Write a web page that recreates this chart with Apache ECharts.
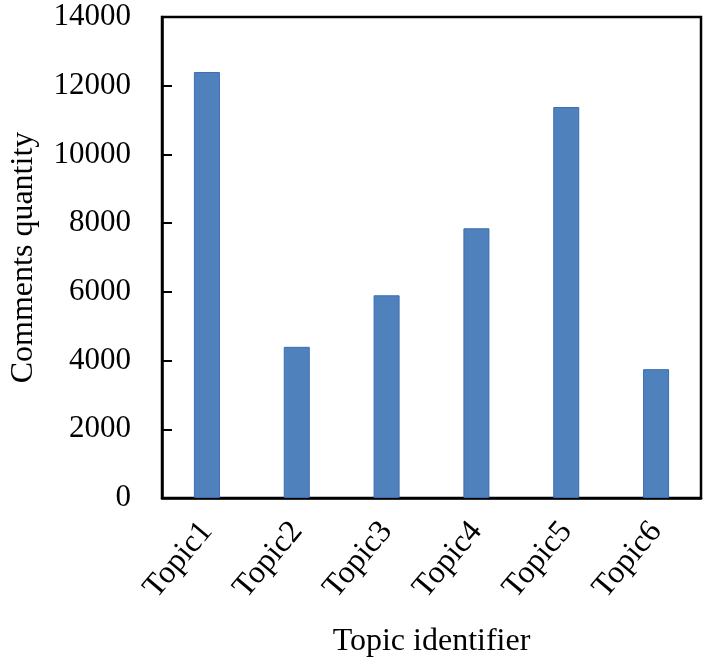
<!DOCTYPE html>
<html>
<head>
<meta charset="utf-8">
<script src="https://cdn.jsdelivr.net/npm/echarts@6/dist/echarts.min.js"></script>
<style>
  html, body { margin: 0; padding: 0; background: #fff; }
  #main { width: 708px; height: 669px; }
</style>
</head>
<body>
<div id="main"></div>
<script>
// values
const topics = ['Topic1', 'Topic2', 'Topic3', 'Topic4', 'Topic5', 'Topic6'];
const comments = [12400, 4400, 5900, 7850, 11380, 3750];

const serif = '"Liberation Serif", "DejaVu Serif", serif';

const chart = echarts.init(document.getElementById('main'));

const option = {
  animation: false,
  grid: {
    left: 160,
    top: 17,
    right: 7,
    bottom: 171,
    show: true,
    borderColor: '#000',
    borderWidth: 2.5
  },
  xAxis: {
    type: 'category',
    data: topics,
    name: 'Topic identifier',
    nameLocation: 'middle',
    nameGap: 128,
    nameTextStyle: { fontFamily: serif, fontSize: 32, color: '#000' },
    axisLine: { lineStyle: { color: '#000', width: 2.5 } },
    axisTick: { show: false },
    axisLabel: {
      rotate: 50,
      margin: 28,
      fontFamily: serif,
      fontSize: 32,
      color: '#000'
    }
  },
  yAxis: {
    type: 'value',
    min: 0,
    max: 14000,
    interval: 2000,
    name: 'Comments quantity',
    nameLocation: 'middle',
    nameGap: 122,
    nameTextStyle: { fontFamily: serif, fontSize: 32, color: '#000' },
    axisLine: { show: true, lineStyle: { color: '#000', width: 2.5 } },
    axisTick: { show: true, inside: true, length: 10, lineStyle: { color: '#000', width: 2 } },
    splitLine: { show: false },
    axisLabel: {
      margin: 31,
      fontFamily: serif,
      fontSize: 31,
      color: '#000',
      formatter: function (v) { return String(v); }
    }
  },
  series: [
    {
      type: 'bar',
      data: comments,
      barWidth: 26,
      itemStyle: {
        color: '#4f81bd',
        borderColor: '#3c6db0',
        borderWidth: 1
      }
    }
  ]
};

chart.setOption(option);
</script>
</body>
</html>
